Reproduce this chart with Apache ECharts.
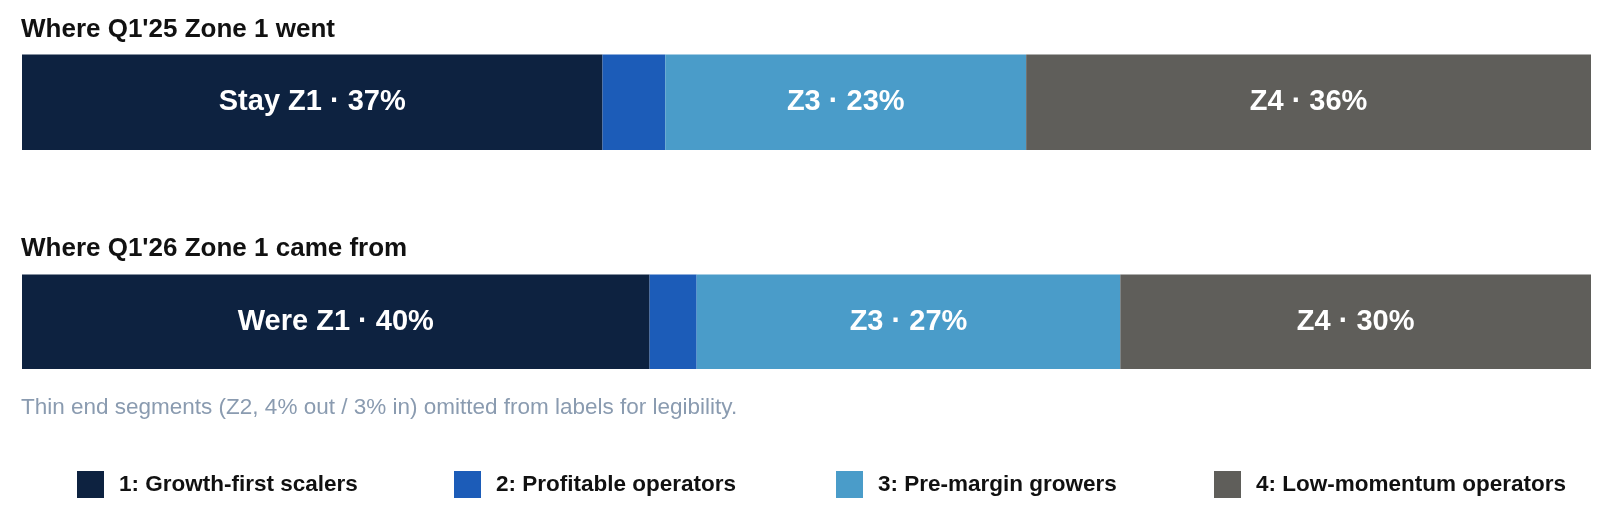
<!DOCTYPE html>
<html>
<head>
<meta charset="utf-8">
<script src="https://cdn.jsdelivr.net/npm/echarts@6/dist/echarts.min.js"></script>
<style>html,body{margin:0;padding:0;background:#fff}#chart{width:1612px;height:530px}</style>
</head>
<body>
<div id="chart"></div>
<script>
var zones = ["1: Growth-first scalers", "2: Profitable operators", "3: Pre-margin growers", "4: Low-momentum operators"];
var colors = ["#0d2240", "#1c5cb8", "#4a9cc9", "#5f5e5a"];
var wentValues = [37, 4, 23, 36];
var wentLabels = ["Stay Z1 · 37%", "", "Z3 · 23%", "Z4 · 36%"];
var cameValues = [40, 3, 27, 30];
var cameLabels = ["Were Z1 · 40%", "", "Z3 · 27%", "Z4 · 30%"];
var legendLeft = [72, 449, 831, 1209];

var chart = echarts.init(document.getElementById('chart'));

function makeSeries(values, labels, idx) {
	return zones.map(function (z, i) {
		return {
			name: z,
			type: 'bar',
			stack: 's' + idx,
			xAxisIndex: idx,
			yAxisIndex: idx,
			barWidth: '100%',
			itemStyle: { color: colors[i] },
			label: {
				show: labels[i] !== "",
				formatter: labels[i],
				color: '#fff',
				fontSize: 29,
				fontWeight: 'bold',
				fontFamily: 'Liberation Sans'
			},
			emphasis: { disabled: true },
			data: [values[i]]
		};
	});
}

var legends = zones.map(function (z, i) {
	return {
		data: [z],
		left: legendLeft[i],
		top: 466,
		itemWidth: 27,
		itemHeight: 27,
		icon: 'rect',
		textStyle: { fontSize: 22.5, fontWeight: 'bold', color: '#111', fontFamily: 'Liberation Sans', padding: [0, 0, 0, 10] },
		selectedMode: false
	};
});

chart.setOption({
	animation: false,
	title: [
		{ text: "Where Q1'25 Zone 1 went", left: 21, top: 17, padding: 0, textStyle: { fontSize: 26, fontWeight: 'bold', color: '#111', fontFamily: 'Liberation Sans' } },
		{ text: "Where Q1'26 Zone 1 came from", left: 21, top: 236, padding: 0, textStyle: { fontSize: 26, fontWeight: 'bold', color: '#111', fontFamily: 'Liberation Sans' } },
		{ text: "Thin end segments (Z2, 4% out / 3% in) omitted from labels for legibility.", left: 21, top: 396, padding: 0, textStyle: { fontSize: 22.5, fontWeight: 'normal', color: '#8a9bb0', fontFamily: 'Liberation Sans' } }
	],
	legend: legends,
	grid: [
		{ left: 22, width: 1569, top: 54.5, height: 95.5 },
		{ left: 22, width: 1569, top: 274.5, height: 94.5 }
	],
	xAxis: [
		{ type: 'value', gridIndex: 0, min: 0, max: 100, show: false },
		{ type: 'value', gridIndex: 1, min: 0, max: 100, show: false }
	],
	yAxis: [
		{ type: 'category', gridIndex: 0, data: ['went'], show: false },
		{ type: 'category', gridIndex: 1, data: ['came'], show: false }
	],
	series: makeSeries(wentValues, wentLabels, 0).concat(makeSeries(cameValues, cameLabels, 1))
});
</script>
</body>
</html>
